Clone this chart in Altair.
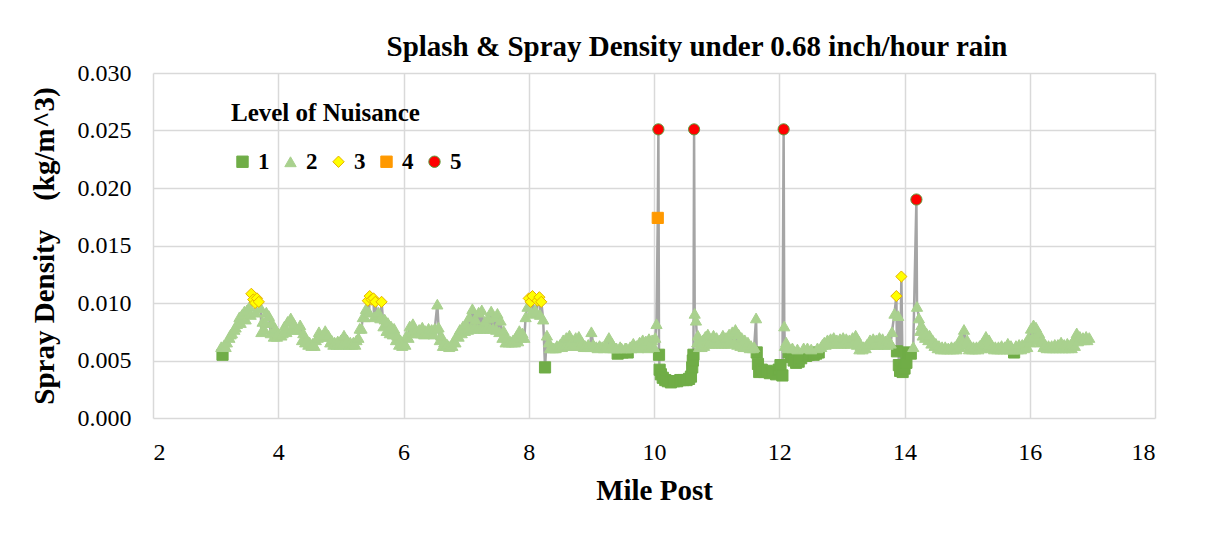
import altair as alt
import pandas as pd

# ---- data (main trace, upper side of the band) ----
mile_a = [3.09, 3.11, 3.14, 3.18, 3.22, 3.26, 3.30, 3.34, 3.38, 3.42, 3.46, 3.50, 3.54, 3.57, 3.60, 3.63, 3.66, 3.69, 3.72, 3.75,
          3.78, 3.81, 3.85, 3.90, 3.95, 4.00, 4.05, 4.10, 4.15, 4.20, 4.25, 4.30, 4.35, 4.40, 4.45, 4.50, 4.55, 4.60, 4.65, 4.70,
          4.75, 4.80, 4.85, 4.90, 4.95, 5.00, 5.05, 5.10, 5.15, 5.20, 5.25, 5.30, 5.35, 5.40, 5.43, 5.46, 5.49, 5.52, 5.55, 5.58,
          5.60, 5.65, 5.70, 5.75, 5.80, 5.85, 5.90, 5.95, 6.00]
dens_a = [0.0062, 0.0055, 0.0064, 0.0066, 0.0070, 0.0074, 0.0077, 0.0082, 0.0088, 0.0090, 0.0093, 0.0094, 0.0097, 0.0108, 0.0103, 0.0100, 0.0104, 0.0101, 0.0096, 0.0084,
          0.0077, 0.0092, 0.0089, 0.0083, 0.0078, 0.0074, 0.0072, 0.0080, 0.0084, 0.0087, 0.0082, 0.0077, 0.0081, 0.0074, 0.0068, 0.0066, 0.0065, 0.0068, 0.0075, 0.0071,
          0.0076, 0.0072, 0.0068, 0.0066, 0.0067, 0.0068, 0.0072, 0.0068, 0.0066, 0.0066, 0.0068, 0.0078, 0.0088, 0.0095, 0.0102, 0.0106, 0.0103, 0.0104, 0.0101, 0.0090,
          0.0092, 0.0101, 0.0086, 0.0083, 0.0080, 0.0078, 0.0072, 0.0068, 0.0066]

mile_b = [6.05, 6.10, 6.15, 6.20, 6.25, 6.30, 6.35, 6.40, 6.45, 6.50, 6.54, 6.56, 6.60, 6.65, 6.70, 6.75, 6.80, 6.85, 6.90, 6.95,
          7.00, 7.05, 7.10, 7.15, 7.20, 7.25, 7.30, 7.35, 7.40, 7.45, 7.50, 7.55, 7.60, 7.65, 7.70, 7.75, 7.80, 7.85, 7.90, 7.95,
          7.98, 8.00, 8.03, 8.06, 8.10, 8.14, 8.17, 8.20, 8.23, 8.26, 8.29, 8.32, 8.36, 8.40, 8.45, 8.50, 8.55, 8.60, 8.65, 8.70,
          8.75, 8.80, 8.85, 8.90, 8.95, 9.00]
dens_b = [0.0072, 0.0080, 0.0082, 0.0076, 0.0077, 0.0079, 0.0076, 0.0078, 0.0077, 0.0078, 0.0099, 0.0079, 0.0072, 0.0066, 0.0064, 0.0063, 0.0067, 0.0072, 0.0077, 0.0080,
          0.0082, 0.0088, 0.0095, 0.0086, 0.0092, 0.0094, 0.0084, 0.0087, 0.0093, 0.0088, 0.0091, 0.0085, 0.0076, 0.0070, 0.0067, 0.0068, 0.0071, 0.0076, 0.0074, 0.0088,
          0.0097, 0.0104, 0.0101, 0.0106, 0.0094, 0.0102, 0.0105, 0.0101, 0.0086, 0.0044, 0.0072, 0.0066, 0.0062, 0.0061, 0.0063, 0.0064, 0.0068, 0.0070, 0.0072, 0.0068,
          0.0070, 0.0071, 0.0066, 0.0063, 0.0064, 0.0075]

mile_c = [9.03, 9.08, 9.13, 9.18, 9.23, 9.28, 9.33, 9.38, 9.42, 9.46, 9.50, 9.54, 9.58, 9.62, 9.67, 9.72, 9.77, 9.82, 9.87, 9.92,
          9.97, 10.02, 10.04, 10.06, 10.07, 10.08, 10.09, 10.11, 10.14, 10.18, 10.22, 10.27, 10.32, 10.37, 10.42, 10.47, 10.52, 10.56, 10.59, 10.61,
          10.62, 10.63, 10.64, 10.65, 10.67, 10.70, 10.74, 10.78, 10.82, 10.86, 10.90, 10.95, 11.00, 11.05, 11.10, 11.15, 11.20, 11.25, 11.30, 11.35,
          11.40, 11.45, 11.50, 11.55, 11.60, 11.63, 11.64, 11.66, 11.68, 11.72, 11.76, 11.80, 11.85, 11.90, 11.95, 11.99, 12.02, 12.05]
dens_c = [0.0064, 0.0062, 0.0063, 0.0062, 0.0063, 0.0070, 0.0065, 0.0061, 0.0056, 0.0062, 0.0057, 0.0061, 0.0057, 0.0062, 0.0065, 0.0063, 0.0066, 0.0068, 0.0067, 0.0069,
          0.0068, 0.0070, 0.0082, 0.0174, 0.0251, 0.0055, 0.0042, 0.0038, 0.0035, 0.0033, 0.0032, 0.0031, 0.0032, 0.0032, 0.0033, 0.0033, 0.0033, 0.0034, 0.0036, 0.0044,
          0.0050, 0.0055, 0.0251, 0.0091, 0.0085, 0.0072, 0.0066, 0.0068, 0.0071, 0.0073, 0.0068, 0.0072, 0.0070, 0.0068, 0.0072, 0.0070, 0.0073, 0.0075, 0.0077, 0.0073,
          0.0070, 0.0068, 0.0066, 0.0063, 0.0062, 0.0087, 0.0057, 0.0047, 0.0040, 0.0042, 0.0040, 0.0041, 0.0039, 0.0040, 0.0038, 0.0042, 0.0046, 0.0037]

mile_d = [12.07, 12.08, 12.11, 12.15, 12.19, 12.23, 12.27, 12.31, 12.35, 12.39, 12.43, 12.47, 12.51, 12.55, 12.59, 12.63, 12.67, 12.72, 12.77, 12.82,
          12.87, 12.92, 12.97, 13.02, 13.07, 13.12, 13.17, 13.22, 13.26, 13.30, 13.35, 13.40, 13.45, 13.50, 13.55, 13.60, 13.65, 13.70, 13.75, 13.80,
          13.84, 13.87, 13.88, 13.90, 13.91, 13.93, 13.95, 13.97, 14.00, 14.03, 14.06, 14.10, 14.14, 14.19, 14.20]
dens_d = [0.0251, 0.0080, 0.0066, 0.0057, 0.0053, 0.0050, 0.0048, 0.0049, 0.0052, 0.0061, 0.0054, 0.0055, 0.0060, 0.0055, 0.0056, 0.0057, 0.0062, 0.0066, 0.0068, 0.0069,
          0.0070, 0.0068, 0.0069, 0.0070, 0.0069, 0.0068, 0.0070, 0.0072, 0.0068, 0.0063, 0.0062, 0.0064, 0.0068, 0.0069, 0.0068, 0.0070, 0.0069, 0.0067, 0.0068, 0.0075,
          0.0091, 0.0106, 0.0058, 0.0089, 0.0046, 0.0041, 0.0123, 0.0040, 0.0043, 0.0048, 0.0057, 0.0056, 0.0062, 0.0190, 0.0097]

mile_e = [14.23, 14.27, 14.31, 14.35, 14.40, 14.45, 14.50, 14.55, 14.60, 14.65, 14.70, 14.75, 14.80, 14.85, 14.90, 14.95, 15.00, 15.05, 15.10, 15.15,
          15.20, 15.25, 15.30, 15.35, 15.40, 15.45, 15.50, 15.55, 15.60, 15.65, 15.70, 15.75, 15.78, 15.83, 15.88, 15.93, 15.98, 16.02, 16.06, 16.10,
          16.15, 16.20, 16.25, 16.30, 16.35, 16.40, 16.45, 16.50, 16.55, 16.60, 16.65, 16.70, 16.75, 16.80, 16.85, 16.90, 16.95]
dens_e = [0.0087, 0.0081, 0.0076, 0.0074, 0.0072, 0.0068, 0.0065, 0.0063, 0.0062, 0.0062, 0.0061, 0.0062, 0.0062, 0.0064, 0.0070, 0.0077, 0.0068, 0.0063, 0.0062, 0.0062,
          0.0063, 0.0066, 0.0071, 0.0068, 0.0063, 0.0062, 0.0062, 0.0063, 0.0062, 0.0065, 0.0063, 0.0057, 0.0063, 0.0064, 0.0064, 0.0065, 0.0070, 0.0078, 0.0081, 0.0079,
          0.0074, 0.0068, 0.0064, 0.0063, 0.0063, 0.0064, 0.0064, 0.0066, 0.0064, 0.0065, 0.0064, 0.0068, 0.0074, 0.0071, 0.0070, 0.0071, 0.0070]

# ---- readings from the lower side of the band ----
low_mile_a = [3.16, 3.24, 3.32, 3.40, 3.48, 3.56, 3.64, 3.73, 3.80, 3.88, 3.93, 3.98, 4.07, 4.13, 4.22, 4.28, 4.38, 4.43, 4.48, 4.53,
              4.58, 4.63, 4.68, 4.73, 4.78, 4.83, 4.88, 4.93, 4.98, 5.03, 5.08, 5.13, 5.18, 5.23, 5.28, 5.33, 5.38, 5.45, 5.53, 5.63,
              5.68, 5.73, 5.78, 5.83, 5.88, 5.93, 5.98, 6.03, 6.08, 6.13, 6.18, 6.23, 6.28, 6.33, 6.38, 6.43, 6.48]
low_dens_a = [0.0062, 0.0073, 0.0079, 0.0083, 0.0086, 0.0090, 0.0092, 0.0075, 0.0083, 0.0074, 0.0071, 0.0071, 0.0074, 0.0075, 0.0078, 0.0077, 0.0068, 0.0066, 0.0064, 0.0063,
              0.0063, 0.0070, 0.0072, 0.0072, 0.0071, 0.0066, 0.0064, 0.0064, 0.0064, 0.0065, 0.0064, 0.0064, 0.0064, 0.0064, 0.0070, 0.0078, 0.0088, 0.0092, 0.0088, 0.0087,
              0.0080, 0.0076, 0.0074, 0.0073, 0.0068, 0.0064, 0.0063, 0.0064, 0.0070, 0.0075, 0.0074, 0.0074, 0.0074, 0.0073, 0.0074, 0.0074, 0.0073]

low_mile_b = [6.58, 6.63, 6.68, 6.73, 6.78, 6.83, 6.88, 6.93, 6.98, 7.03, 7.08, 7.13, 7.18, 7.23, 7.28, 7.33, 7.38, 7.43, 7.48, 7.53,
              7.58, 7.63, 7.68, 7.73, 7.78, 7.83, 7.88, 7.93, 8.04, 8.08, 8.12, 8.18, 8.34, 8.38, 8.43, 8.48, 8.53, 8.58, 8.63, 8.68,
              8.73, 8.78, 8.83, 8.88, 8.93, 8.98]
low_dens_b = [0.0068, 0.0063, 0.0063, 0.0062, 0.0063, 0.0066, 0.0071, 0.0074, 0.0076, 0.0077, 0.0078, 0.0079, 0.0078, 0.0078, 0.0078, 0.0079, 0.0078, 0.0078, 0.0077, 0.0075,
              0.0070, 0.0066, 0.0066, 0.0066, 0.0066, 0.0067, 0.0070, 0.0070, 0.0092, 0.0091, 0.0092, 0.0090, 0.0061, 0.0061, 0.0061, 0.0062, 0.0062, 0.0063, 0.0063, 0.0063,
              0.0063, 0.0063, 0.0063, 0.0062, 0.0062, 0.0062]

low_mile_c = [9.05, 9.10, 9.15, 9.20, 9.25, 9.30, 9.35, 9.40, 9.48, 9.56, 9.64, 9.70, 9.75, 9.80, 9.85, 9.90, 9.95, 10.00,
              10.69, 10.72, 10.76, 10.80, 10.84, 10.88, 10.93, 10.98, 11.03, 11.08, 11.13, 11.18, 11.23, 11.28, 11.33, 11.38, 11.43, 11.48,
              11.53, 11.58]
low_dens_c = [0.0062, 0.0061, 0.0062, 0.0061, 0.0062, 0.0061, 0.0061, 0.0061, 0.0061, 0.0061, 0.0061, 0.0062, 0.0061, 0.0062, 0.0062, 0.0061, 0.0062, 0.0062,
              0.0066, 0.0062, 0.0062, 0.0063, 0.0065, 0.0065, 0.0065, 0.0065, 0.0065, 0.0065, 0.0065, 0.0065, 0.0065, 0.0066, 0.0064, 0.0063, 0.0062, 0.0062,
              0.0061, 0.0061]

low_mile_d = [12.09, 12.13, 12.21, 12.29, 12.45, 12.61, 12.69, 12.74, 12.79, 12.84, 12.89, 12.94, 12.99, 13.04, 13.09, 13.14, 13.19, 13.24, 13.28, 13.33,
              13.38, 13.43, 13.48, 13.53, 13.58, 13.63, 13.68, 13.73, 13.78]
low_dens_d = [0.0063, 0.0061, 0.0061, 0.0060, 0.0061, 0.0061, 0.0064, 0.0064, 0.0065, 0.0065, 0.0065, 0.0065, 0.0065, 0.0065, 0.0065, 0.0065, 0.0066, 0.0064, 0.0060, 0.0060,
              0.0061, 0.0064, 0.0064, 0.0064, 0.0064, 0.0065, 0.0064, 0.0064, 0.0065]

low_mile_e = [14.25, 14.29, 14.33, 14.38, 14.43, 14.48, 14.53, 14.58, 14.63, 14.68, 14.73, 14.78, 14.83, 14.88, 14.93, 14.98, 15.03, 15.08, 15.13, 15.18,
              15.23, 15.28, 15.33, 15.38, 15.43, 15.48, 15.53, 15.58, 15.63, 15.68, 15.73, 15.81, 15.86, 15.91, 15.96, 16.00, 16.04, 16.08, 16.12, 16.17,
              16.22, 16.27, 16.32, 16.37, 16.42, 16.47, 16.52, 16.57, 16.62, 16.67, 16.72, 16.77, 16.82, 16.87, 16.92]
low_dens_e = [0.0076, 0.0072, 0.0070, 0.0068, 0.0065, 0.0063, 0.0061, 0.0060, 0.0060, 0.0060, 0.0060, 0.0060, 0.0060, 0.0062, 0.0066, 0.0064, 0.0060, 0.0060, 0.0060, 0.0060,
              0.0061, 0.0064, 0.0063, 0.0061, 0.0060, 0.0060, 0.0060, 0.0060, 0.0060, 0.0060, 0.0060, 0.0060, 0.0060, 0.0061, 0.0062, 0.0066, 0.0070, 0.0070, 0.0068, 0.0066,
              0.0062, 0.0061, 0.0061, 0.0061, 0.0061, 0.0061, 0.0061, 0.0061, 0.0061, 0.0061, 0.0063, 0.0067, 0.0068, 0.0068, 0.0068]

levels = ["1", "2", "3", "4", "5"]
level_fill = ["#70AD47", "#A9D18E", "#FFFF00", "#FF9900", "#FF0000"]
level_stroke = ["#70AD47", "#A9D18E", "#E6B000", "#FF9900", "#5E9A3A"]
level_shape = ["square", "triangle-up", "diamond", "square", "circle"]
level_bounds = [0.0059, 0.0100, 0.0150, 0.0185]   # nuisance class limits

x_ticks = [2, 4, 6, 8, 10, 12, 14, 16, 18]
y_ticks = [0.000, 0.005, 0.010, 0.015, 0.020, 0.025, 0.030]

miles = mile_a + mile_b + mile_c + mile_d + mile_e + low_mile_a + low_mile_b + low_mile_c + low_mile_d + low_mile_e
dens = dens_a + dens_b + dens_c + dens_d + dens_e + low_dens_a + low_dens_b + low_dens_c + low_dens_d + low_dens_e


def classify(v):
    for i, b in enumerate(level_bounds):
        if v < b:
            return levels[i]
    return levels[-1]


df = pd.DataFrame({"mile": miles, "density": dens})
df = df.sort_values("mile", kind="stable").reset_index(drop=True)
df["idx"] = range(len(df))
df["level"] = [classify(v) for v in df["density"]]
pts = df.sort_values(["level", "idx"], kind="stable")

SERIF = "Liberation Serif"

xenc = alt.X("mile:Q", scale=alt.Scale(domain=[2, 18], nice=False, zero=False),
             axis=alt.Axis(values=x_ticks, title="Mile Post", format="d", labelPadding=22,
                           titlePadding=12))
yenc = alt.Y("density:Q", scale=alt.Scale(domain=[0, 0.03], nice=False),
             axis=alt.Axis(values=y_ticks, format=".3f",
                           title="Spray Density\u00a0\u00a0\u00a0\u00a0(kg/m^3)",
                           labelPadding=22, titlePadding=18))

line = alt.Chart(df).mark_line(color="#A5A5A5", strokeWidth=2.5).encode(
    x=xenc, y=yenc, order=alt.Order("idx:Q"))

leg = alt.Legend(title="Level of Nuisance", orient="none", legendX=78, legendY=28,
                 direction="horizontal", titleFont=SERIF, titleFontSize=25, titleFontWeight="bold",
                 titleColor="#000000", titlePadding=24, titleLimit=400, labelFont=SERIF, labelFontSize=23,
                 labelFontWeight="bold", labelColor="#000000", symbolSize=130, symbolStrokeWidth=1,
                 columnPadding=9, padding=0, labelOffset=4)

points = alt.Chart(pts).mark_point(filled=True, size=125, opacity=1, strokeWidth=1).encode(
    x=xenc, y=yenc,
    fill=alt.Fill("level:N", scale=alt.Scale(domain=levels, range=level_fill), legend=leg),
    stroke=alt.Stroke("level:N", scale=alt.Scale(domain=levels, range=level_stroke), legend=leg),
    shape=alt.Shape("level:N", scale=alt.Scale(domain=levels, range=level_shape), legend=leg),
)

chart = alt.layer(line, points).properties(
    width=1002, height=345,
    padding={"left": 145, "top": 65, "right": 40, "bottom": 110},
    autosize=alt.AutoSizeParams(type="none"),
    title=alt.TitleParams("Splash & Spray Density under 0.68 inch/hour rain", font=SERIF,
                          fontSize=29, fontWeight="bold", color="#000000", anchor="middle",
                          dx=43, dy=40, offset=16, baseline="alphabetic"),
).configure_view(stroke=None).configure_axis(
    grid=True, gridColor="#D9D9D9", gridWidth=1.5, ticks=False, domain=False,
    labelFont=SERIF, labelFontSize=24, labelColor="#000000",
    titleFont=SERIF, titleFontSize=29, titleFontWeight="bold", titleColor="#000000",
)

chart.save("out.html", embed_options={"renderer": "svg", "actions": False})
